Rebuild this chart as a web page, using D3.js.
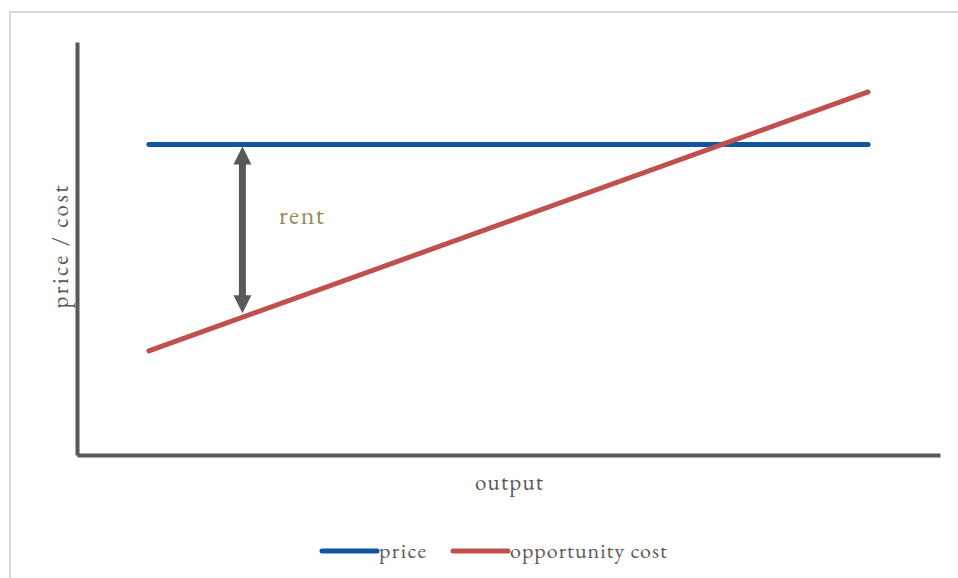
<!DOCTYPE html>
<html>
<head>
<meta charset="utf-8">
<script src="https://cdn.jsdelivr.net/npm/d3@7"></script>
<style>
  body { margin: 0; background: #fff; }
  text { font-family: "EB Garamond", Garamond, "Liberation Serif", "DejaVu Serif", serif; }
</style>
</head>
<body>
<script>
// chart values
var series = ["price", "opportunity cost"];
var outputX = [1, 11];
var priceValues = [7.52, 7.52];
var costValues = [2.52, 8.79];
var rentAt = 2.3;
var colors = ["#0e56a4", "#c0504d"];

var W = 958, H = 578;

var svg = d3.select("body").append("svg")
    .attr("width", W)
    .attr("height", H);

// outer frame
svg.append("rect")
    .attr("x", 10).attr("y", 12)
    .attr("width", W + 20).attr("height", H + 20)
    .attr("fill", "#fff")
    .attr("stroke", "#d9d9d9")
    .attr("stroke-width", 2);

var x = d3.scaleLinear().domain([0, 12]).range([77, 940]);
var y = d3.scaleLinear().domain([0, 10]).range([455, 42]);

// axes (no ticks)
svg.append("g")
    .attr("transform", "translate(0,455)")
    .call(d3.axisBottom(x).tickValues([]).tickSizeOuter(0))
    .select(".domain")
    .attr("stroke", "#595959")
    .attr("stroke-width", 4);

svg.append("g")
    .attr("transform", "translate(77,0)")
    .call(d3.axisLeft(y).tickValues([]).tickSizeOuter(0))
    .select(".domain")
    .attr("stroke", "#595959")
    .attr("stroke-width", 4);

// axis labels
svg.append("text")
    .attr("x", 509).attr("y", 490)
    .attr("text-anchor", "middle")
    .attr("font-size", 23)
    .attr("textLength", 68)
    .attr("lengthAdjust", "spacing")
    .attr("fill", "#595959")
    .text("output");

svg.append("text")
    .attr("transform", "translate(68,247) rotate(-90)")
    .attr("text-anchor", "middle")
    .attr("font-size", 23)
    .attr("textLength", 123)
    .attr("lengthAdjust", "spacing")
    .attr("fill", "#595959")
    .text("price / cost");

// lines
var line = d3.line()
    .x(function(d) { return x(d[0]); })
    .y(function(d) { return y(d[1]); });

[priceValues, costValues].forEach(function(vals, i) {
    svg.append("path")
        .datum(d3.zip(outputX, vals))
        .attr("d", line)
        .attr("fill", "none")
        .attr("stroke", colors[i])
        .attr("stroke-width", 5)
        .attr("stroke-linecap", "round");
});

// rent arrow
var costAt = d3.scaleLinear().domain(outputX).range(costValues);
var ax = x(rentAt),
    aTop = y(priceValues[0]) + 2,
    aBot = y(costAt(rentAt)) - 4,
    head = 18, half = 9;

svg.append("line")
    .attr("x1", ax).attr("x2", ax)
    .attr("y1", aTop + head - 1).attr("y2", aBot - head + 1)
    .attr("stroke", "#595959")
    .attr("stroke-width", 7);

svg.append("path")
    .attr("d", "M" + ax + "," + aTop + "L" + (ax + half) + "," + (aTop + head) + "L" + (ax - half) + "," + (aTop + head) + "Z")
    .attr("fill", "#595959");

svg.append("path")
    .attr("d", "M" + ax + "," + aBot + "L" + (ax + half) + "," + (aBot - head) + "L" + (ax - half) + "," + (aBot - head) + "Z")
    .attr("fill", "#595959");

svg.append("text")
    .attr("x", 279).attr("y", 224)
    .attr("font-size", 26)
    .attr("textLength", 45)
    .attr("lengthAdjust", "spacing")
    .attr("fill", "#948a54")
    .text("rent");

// legend
var legendX = [322, 453];
var legendW = [47, 157];
series.forEach(function(name, i) {
    var g = svg.append("g").attr("transform", "translate(" + legendX[i] + ",551)");
    g.append("line")
        .attr("x1", 0).attr("x2", 55)
        .attr("stroke", colors[i])
        .attr("stroke-width", 5)
        .attr("stroke-linecap", "round");
    g.append("text")
        .attr("x", 57).attr("y", 7)
        .attr("font-size", 22)
        .attr("textLength", legendW[i])
        .attr("lengthAdjust", "spacing")
        .attr("fill", "#595959")
        .text(name);
});
</script>
</body>
</html>
